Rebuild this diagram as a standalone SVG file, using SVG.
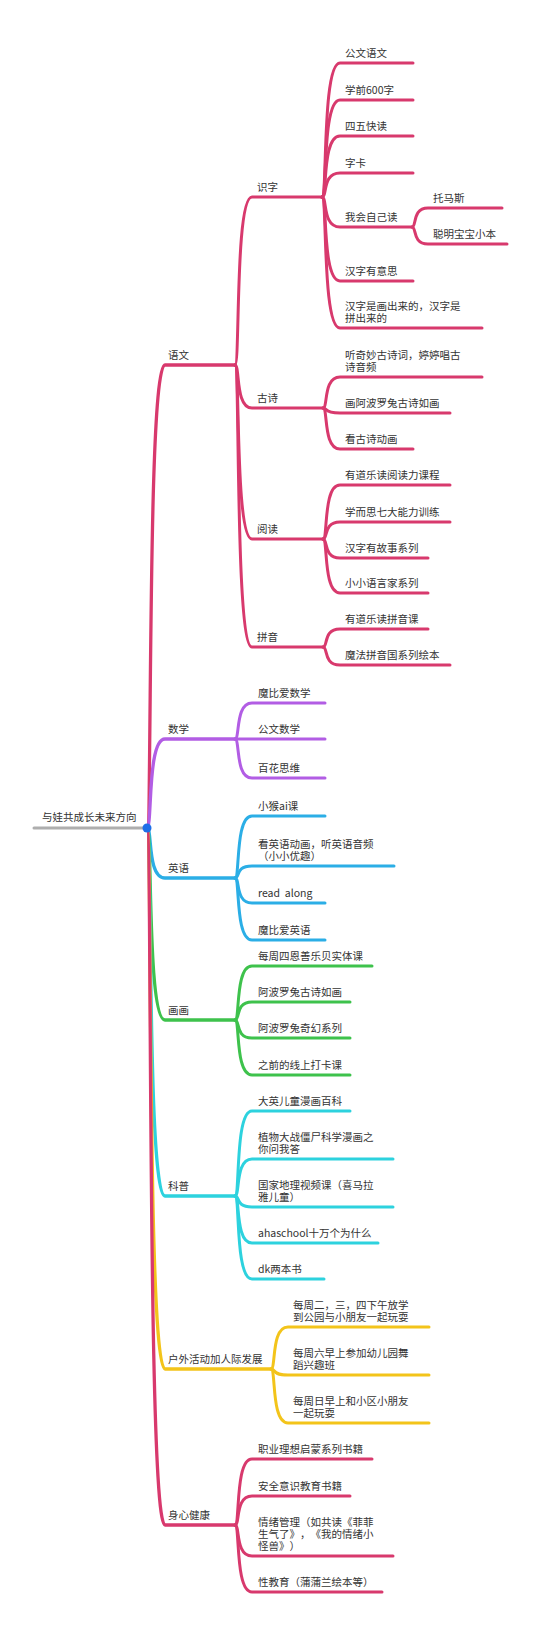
<svg xmlns="http://www.w3.org/2000/svg" width="540" height="1628" viewBox="0 0 540 1628">
<style>
text{font-family:"Noto Sans CJK SC","Noto Sans",sans-serif;font-size:10.5px;fill:#333;white-space:pre;text-spacing-trim:space-all}
path{fill:none;stroke-width:3;stroke-linecap:round;stroke-linejoin:round}
.m{stroke-width:3.3}
.r{stroke:#D8396D}.p{stroke:#B25DE4}.b{stroke:#2BAEE6}.g{stroke:#3EC24C}.c{stroke:#2DD2DE}.y{stroke:#F3C41A}.k{stroke:#AEAEAE}
</style>
<rect width="540" height="1628" fill="#fff"/>
<g id="connectors">
<path class="k" d="M34,828 H147"/>
<!-- main branches -->
<path class="r m" d="M147,828 C152.4,828 147,365 165,365 H235"/>
<path class="p m" d="M147,828 C152.4,828 147,739 165,739 H235"/>
<path class="b m" d="M147,828 C152.4,828 147,878 165,878 H235"/>
<path class="g m" d="M147,828 C152.4,828 147,1020 165,1020 H235"/>
<path class="c m" d="M147,828 C152.4,828 147,1196 165,1196 H235"/>
<path class="y m" d="M147,828 C152.4,828 147,1369 165,1369 H271"/>
<path class="r m" d="M147,828 C152.4,828 147,1525 165,1525 H235"/>
<!-- 语文 -->
<path class="r" d="M235,365 C240.1,365 235,197 252,197 H322"/>
<path class="r" d="M235,365 C240.1,365 235,408 252,408 H323"/>
<path class="r" d="M235,365 C240.1,365 235,539 252,539 H323"/>
<path class="r" d="M235,365 C240.1,365 235,647 252,647 H323"/>
<!-- 识字 -->
<path class="r" d="M322,197 C327.4,197 322,63 340,63 H413"/>
<path class="r" d="M322,197 C327.4,197 322,100 340,100 H413"/>
<path class="r" d="M322,197 C327.4,197 322,136 340,136 H413"/>
<path class="r" d="M322,197 C327.4,197 322,173 340,173 H413"/>
<path class="r" d="M322,197 C327.4,197 322,227 340,227 H412"/>
<path class="r" d="M322,197 C327.4,197 322,281 340,281 H413"/>
<path class="r" d="M322,197 C327.4,197 322,328 340,328 H482"/>
<path class="r" d="M412,227 C416.8,227 412,208 428,208 H502"/>
<path class="r" d="M412,227 C416.8,227 412,244 428,244 H507"/>
<!-- 古诗 -->
<path class="r" d="M323,408 C328.1,408 323,377 340,377 H482"/>
<path class="r" d="M323,408 C328.1,408 323,413 340,413 H450"/>
<path class="r" d="M323,408 C328.1,408 323,449 340,449 H413"/>
<!-- 阅读 -->
<path class="r" d="M323,539 C328.1,539 323,485 340,485 H450"/>
<path class="r" d="M323,539 C328.1,539 323,522 340,522 H450"/>
<path class="r" d="M323,539 C328.1,539 323,558 340,558 H428"/>
<path class="r" d="M323,539 C328.1,539 323,593 340,593 H428"/>
<!-- 拼音 -->
<path class="r" d="M323,647 C328.1,647 323,629 340,629 H428"/>
<path class="r" d="M323,647 C328.1,647 323,665 340,665 H450"/>
<!-- 数学 -->
<path class="p" d="M235,739 C240.1,739 235,703 252,703 H325"/>
<path class="p" d="M235,739 C240.1,739 235,739 252,739 H325"/>
<path class="p" d="M235,739 C240.1,739 235,778 252,778 H325"/>
<!-- 英语 -->
<path class="b" d="M235,878 C240.1,878 235,816 252,816 H325"/>
<path class="b" d="M235,878 C240.1,878 235,866 252,866 H394"/>
<path class="b" d="M235,878 C240.1,878 235,903 252,903 H325"/>
<path class="b" d="M235,878 C240.1,878 235,940 252,940 H325"/>
<!-- 画画 -->
<path class="g" d="M235,1020 C240.1,1020 235,966 252,966 H372"/>
<path class="g" d="M235,1020 C240.1,1020 235,1002 252,1002 H350"/>
<path class="g" d="M235,1020 C240.1,1020 235,1038 252,1038 H350"/>
<path class="g" d="M235,1020 C240.1,1020 235,1075 252,1075 H350"/>
<!-- 科普 -->
<path class="c" d="M235,1196 C240.1,1196 235,1111 252,1111 H350"/>
<path class="c" d="M235,1196 C240.1,1196 235,1159 252,1159 H393"/>
<path class="c" d="M235,1196 C240.1,1196 235,1207 252,1207 H393"/>
<path class="c" d="M235,1196 C240.1,1196 235,1243 252,1243 H378"/>
<path class="c" d="M235,1196 C240.1,1196 235,1279 252,1279 H324"/>
<!-- 户外 -->
<path class="y" d="M271,1369 C276.1,1369 271,1327 288,1327 H429"/>
<path class="y" d="M271,1369 C276.1,1369 271,1375 288,1375 H429"/>
<path class="y" d="M271,1369 C276.1,1369 271,1423 288,1423 H429"/>
<!-- 身心健康 -->
<path class="r" d="M235,1525 C240.1,1525 235,1459 252,1459 H372"/>
<path class="r" d="M235,1525 C240.1,1525 235,1496 252,1496 H350"/>
<path class="r" d="M235,1525 C240.1,1525 235,1556 252,1556 H393"/>
<path class="r" d="M235,1525 C240.1,1525 235,1592 252,1592 H382"/>
</g>
<g id="root"><text x="42" y="821">与娃共成长未来方向</text><circle cx="147" cy="828" r="4.5" fill="#1E6FE8"/></g>
<g id="yuwen"><text x="168" y="359">语文</text></g>
<g id="shizi"><text x="257" y="191">识字</text></g>
<g id="n-gongwenyuwen"><text x="345" y="57">公文语文</text></g>
<g id="n-xueqian"><text x="345" y="94">学前600字</text></g>
<g id="n-siwu"><text x="345" y="130">四五快读</text></g>
<g id="n-zika"><text x="345" y="167">字卡</text></g>
<g id="n-wohui"><text x="345" y="221">我会自己读</text></g>
<g id="n-tuomasi"><text x="433" y="202">托马斯</text></g>
<g id="n-congming"><text x="433" y="238">聪明宝宝小本</text></g>
<g id="n-hanziyouyisi"><text x="345" y="275">汉字有意思</text></g>
<g id="n-hanzishi"><text x="345" y="310">汉字是画出来的，汉字是</text><text x="345" y="322">拼出来的</text></g>
<g id="gushi"><text x="257" y="402">古诗</text></g>
<g id="n-tingqimiao"><text x="345" y="359">听奇妙古诗词，婷婷唱古</text><text x="345" y="371">诗音频</text></g>
<g id="n-hua-abl"><text x="345" y="407">画阿波罗兔古诗如画</text></g>
<g id="n-kangushi"><text x="345" y="443">看古诗动画</text></g>
<g id="yuedu"><text x="257" y="533">阅读</text></g>
<g id="n-youdao-yd"><text x="345" y="479">有道乐读阅读力课程</text></g>
<g id="n-xueersi"><text x="345" y="516">学而思七大能力训练</text></g>
<g id="n-hanzigushi"><text x="345" y="552">汉字有故事系列</text></g>
<g id="n-xiaoxiao"><text x="345" y="587">小小语言家系列</text></g>
<g id="pinyin"><text x="257" y="641">拼音</text></g>
<g id="n-youdao-py"><text x="345" y="623">有道乐读拼音课</text></g>
<g id="n-mofa"><text x="345" y="659">魔法拼音国系列绘本</text></g>
<g id="shuxue"><text x="168" y="733">数学</text></g>
<g id="n-mobi-sx"><text x="258" y="697">魔比爱数学</text></g>
<g id="n-gongwen-sx"><text x="258" y="733">公文数学</text></g>
<g id="n-baihua"><text x="258" y="772">百花思维</text></g>
<g id="yingyu"><text x="168" y="872">英语</text></g>
<g id="n-xiaohou"><text x="258" y="810">小猴ai课</text></g>
<g id="n-kanyingyu"><text x="258" y="848">看英语动画，听英语音频</text><text x="258" y="860">（小小优趣）</text></g>
<g id="n-readalong"><text x="258" y="897">read  along</text></g>
<g id="n-mobi-yy"><text x="258" y="934">魔比爱英语</text></g>
<g id="huahua"><text x="168" y="1014">画画</text></g>
<g id="n-meizhousi"><text x="258" y="960">每周四恩善乐贝实体课</text></g>
<g id="n-abl-gushi"><text x="258" y="996">阿波罗兔古诗如画</text></g>
<g id="n-abl-qihuan"><text x="258" y="1032">阿波罗兔奇幻系列</text></g>
<g id="n-zhiqian"><text x="258" y="1069">之前的线上打卡课</text></g>
<g id="kepu"><text x="168" y="1190">科普</text></g>
<g id="n-daying"><text x="258" y="1105">大英儿童漫画百科</text></g>
<g id="n-zhiwu"><text x="258" y="1141">植物大战僵尸科学漫画之</text><text x="258" y="1153">你问我答</text></g>
<g id="n-guojia"><text x="258" y="1189">国家地理视频课（喜马拉</text><text x="258" y="1201">雅儿童）</text></g>
<g id="n-aha"><text x="258" y="1237">ahaschool十万个为什么</text></g>
<g id="n-dk"><text x="258" y="1273">dk两本书</text></g>
<g id="huwai"><text x="168" y="1363">户外活动加人际发展</text></g>
<g id="n-zhouer"><text x="293" y="1309">每周二，三，四下午放学</text><text x="293" y="1321">到公园与小朋友一起玩耍</text></g>
<g id="n-zhouliu"><text x="293" y="1357">每周六早上参加幼儿园舞</text><text x="293" y="1369">蹈兴趣班</text></g>
<g id="n-zhouri"><text x="293" y="1405">每周日早上和小区小朋友</text><text x="293" y="1417">一起玩耍</text></g>
<g id="shenxin"><text x="168" y="1519">身心健康</text></g>
<g id="n-zhiye"><text x="258" y="1453">职业理想启蒙系列书籍</text></g>
<g id="n-anquan"><text x="258" y="1490">安全意识教育书籍</text></g>
<g id="n-qingxu"><text x="258" y="1526">情绪管理（如共读《菲菲</text><text x="258" y="1538">生气了》，《我的情绪小</text><text x="258" y="1550">怪兽》）</text></g>
<g id="n-xingjiaoyu"><text x="258" y="1586">性教育（蒲蒲兰绘本等）</text></g>
</svg>
